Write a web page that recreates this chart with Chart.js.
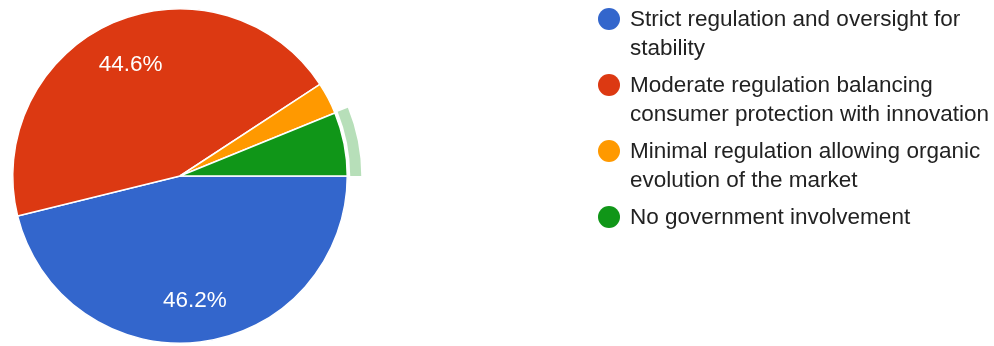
<!DOCTYPE html>
<html>
<head>
<meta charset="utf-8">
<script src="https://cdn.jsdelivr.net/npm/chart.js@4.4.1/dist/chart.umd.min.js"></script>
<style>
  html, body { margin: 0; padding: 0; background: #fff; }
  #wrap { position: relative; width: 994px; height: 346px; overflow: hidden; }
  #wrap canvas { position: absolute; left: 0; top: 0; }
  #legend {
    position: absolute; left: 598px; top: 4px;
    font-family: "Liberation Sans", Arial, sans-serif; font-size: 22.5px; color: #222;
  }
  .item { position: relative; padding-left: 32px; line-height: 29px; margin-bottom: 8px; white-space: nowrap; }
  .dot { position: absolute; left: 0; top: 3.5px; width: 22px; height: 22px; border-radius: 50%; }
</style>
</head>
<body>
<div id="wrap">
  <canvas id="pie" width="994" height="346"></canvas>
  <div id="legend"></div>
</div>
<script>
// Survey answers (65 responses), legend lines kept as they wrap in the original.
const labels = [
  ["Strict regulation and oversight for", "stability"],
  ["Moderate regulation balancing", "consumer protection with innovation"],
  ["Minimal regulation allowing organic", "evolution of the market"],
  ["No government involvement"],
];
const counts = [30, 29, 2, 4];
const colors = ["#3366cc", "#dc3912", "#ff9900", "#109618"];
const highlighted = 3; // slice shown with the hover ring

// Percent labels inside the big slices + the light ring round the hovered one.
const sliceExtras = {
  id: "sliceExtras",
  afterDatasetsDraw(chart) {
    const ctx = chart.ctx;
    const arcs = chart.getDatasetMeta(0).data;
    const total = counts.reduce((a, b) => a + b, 0);

    const h = arcs[highlighted];
    ctx.save();
    ctx.beginPath();
    ctx.arc(h.x, h.y, h.outerRadius + 14, h.startAngle, h.endAngle);
    ctx.arc(h.x, h.y, h.outerRadius + 3, h.endAngle, h.startAngle, true);
    ctx.closePath();
    ctx.fillStyle = "rgba(16,150,24,0.3)";
    ctx.fill();
    ctx.restore();

    ctx.save();
    ctx.fillStyle = "#fff";
    ctx.font = "22.5px 'Liberation Sans', Arial, sans-serif";
    ctx.textAlign = "center";
    ctx.textBaseline = "middle";
    arcs.forEach((a, i) => {
      const pct = (counts[i] / total) * 100;
      if (pct < 10) return;
      const mid = (a.startAngle + a.endAngle) / 2;
      const r = a.outerRadius * 0.74;
      ctx.fillText(pct.toFixed(1) + "%", a.x + Math.cos(mid) * r, a.y + Math.sin(mid) * r + 2);
    });
    ctx.restore();
  },
};

new Chart(document.getElementById("pie"), {
  type: "pie",
  data: {
    labels: labels.map((l) => l.join(" ")),
    datasets: [{ data: counts, backgroundColor: colors, borderColor: "#fff", borderWidth: 1.5 }],
  },
  options: {
    responsive: false,
    animation: false,
    rotation: 90,
    layout: { padding: { left: 12, top: 8, bottom: 2, right: 646 } },
    plugins: { legend: { display: false }, tooltip: { enabled: false } },
  },
  plugins: [sliceExtras],
});

document.getElementById("legend").innerHTML = labels
  .map((l, i) => `<div class="item"><span class="dot" style="background:${colors[i]}"></span>${l.join("<br>")}</div>`)
  .join("");
</script>
</body>
</html>
